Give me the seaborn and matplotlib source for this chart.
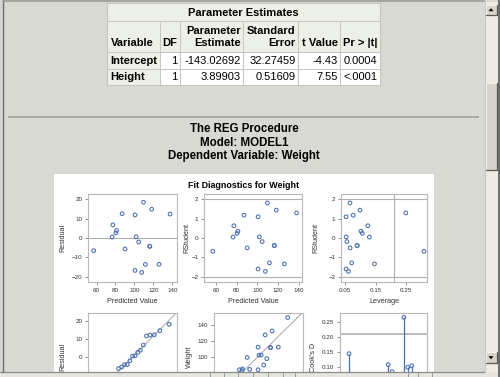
import numpy as np
import pandas as pd
import matplotlib
matplotlib.use("Agg")
import matplotlib.pyplot as plt
import seaborn as sns
from matplotlib.patches import Rectangle, Polygon
from matplotlib.ticker import FormatStrFormatter

sns.set_theme(style="white")
plt.rcParams['font.family'] = ['Liberation Sans', 'DejaVu Sans']

# ---------------- data ----------------
table_title = "Parameter Estimates"
col_head1 = ["", "", "Parameter", "Standard", "", ""]
col_head2 = ["Variable", "DF", "Estimate", "Error", "t Value", "Pr > |t|"]
row_vars = ["Intercept", "Height"]
row_df = ["1", "1"]
row_est = ["-143.02692", "3.89903"]
row_se = ["32.27459", "0.51609"]
row_t = ["-4.43", "7.55"]
row_p = ["0.0004", "<.0001"]

titles = ["The REG Procedure", "Model: MODEL1", "Dependent Variable: Weight"]
panel_title = "Fit Diagnostics for Weight"

obs = list(range(1, 20))
predicted = [126.006, 77.268, 111.580, 101.832, 104.561, 80.387, 90.135, 100.662, 100.662, 87.016,
             56.993, 107.681, 76.488, 116.259, 137.703, 109.630, 118.208, 81.167, 116.259]
weight = [112.5, 84.0, 98.0, 102.5, 102.5, 83.0, 84.5, 112.5, 84.0, 99.5,
          50.5, 90.0, 77.0, 112.0, 150.0, 128.0, 133.0, 85.0, 112.0]
residual = [-13.506, 6.732, -13.580, 0.668, -2.061, 2.613, -5.635, 11.838, -16.662, 12.484,
            -6.493, -17.681, 0.512, -4.259, 12.297, 18.370, 14.792, 3.833, -4.259]
rstudent = [-1.332, 0.630, -1.278, 0.059, -0.184, 0.239, -0.508, 1.089, -1.592, 1.170,
            -0.685, -1.715, 0.047, -0.388, 1.289, 1.801, 1.430, 0.351, -0.388]
leverage = [0.1465, 0.1246, 0.0712, 0.0531, 0.0555, 0.1063, 0.0662, 0.0527, 0.0527, 0.0762,
            0.3101, 0.0608, 0.1297, 0.0893, 0.2500, 0.0655, 0.0986, 0.1021, 0.0893]
cooks_d = [0.1455, 0.0292, 0.0604, 0.0001, 0.0010, 0.0036, 0.0096, 0.0327, 0.0647, 0.0552,
           0.1090, 0.0855, 0.0002, 0.0077, 0.2666, 0.1003, 0.1053, 0.0074, 0.0077]
normal_quantile = [-1.846, -1.376, -1.097, -0.884, -0.705, -0.547, -0.401, -0.264, -0.131, 0.0,
                   0.131, 0.264, 0.401, 0.547, 0.705, 0.884, 1.097, 1.376, 1.846]
sorted_residual = [-17.681, -16.662, -13.580, -13.506, -6.493, -5.635, -4.259, -4.259, -2.061, 0.512,
                   0.668, 2.613, 3.833, 6.732, 11.838, 12.297, 12.484, 14.792, 18.370]
rmse = 11.226
leverage_cut = 0.2105
cooks_cut = 0.2105

# ---------------- styling ----------------
W, H = 500, 377
BG = '#d8d9d2'
HEAD = '#edf0e6'
GRIDC = '#c6c8c0'
BLUE = '#4a6eae'
REF = '#b0b0b0'
FRAME = '#b8b8b8'
TXT = '#333333'

fig = plt.figure(figsize=(5, 3.77), dpi=100, facecolor=BG)


def px_axes(x0, y0, x1, y1, z=1):
    return fig.add_axes([x0 / W, 1 - y1 / H, (x1 - x0) / W, (y1 - y0) / H], zorder=z)


bg = px_axes(0, 0, W, H, z=0)
bg.set_xlim(0, W)
bg.set_ylim(H, 0)
bg.axis('off')

# ---- table ----
cx = [107, 160, 180, 243, 298, 340, 380]
ry = [3, 21, 52, 68.5, 85]


def cell(x0, y0, x1, y1, fc):
    bg.add_patch(Rectangle((x0, y0), x1 - x0, y1 - y0, facecolor=fc, edgecolor=GRIDC, lw=0.75))


cell(cx[0], ry[0], cx[-1], ry[1], HEAD)
for i in range(6):
    cell(cx[i], ry[1], cx[i + 1], ry[2], HEAD)
for r in range(2):
    for i in range(6):
        cell(cx[i], ry[2 + r], cx[i + 1], ry[3 + r], HEAD if i == 0 else 'white')

tfs = 8
bg.text((cx[0] + cx[-1]) / 2, 12.5, table_title, ha='center', va='center', fontsize=tfs, weight='bold', color='black')
for i in range(6):
    if i == 0:
        xx, ha = cx[0] + 3.5, 'left'
    elif i == 1:
        xx, ha = (cx[1] + cx[2]) / 2, 'center'
    else:
        xx, ha = cx[i + 1] - 2.3, 'right'
    if col_head1[i]:
        bg.text(xx, 30.5, col_head1[i], ha=ha, va='center', fontsize=tfs, weight='bold', color='black')
    bg.text(xx, 43, col_head2[i], ha=ha, va='center', fontsize=tfs, weight='bold', color='black')

for r in range(2):
    yy = (ry[2 + r] + ry[3 + r]) / 2 + 0.5
    bg.text(cx[0] + 3.5, yy, row_vars[r], ha='left', va='center', fontsize=tfs, weight='bold', color='black')
    vals = [row_df[r], row_est[r], row_se[r], row_t[r], row_p[r]]
    for i, v in enumerate(vals):
        bg.text(cx[i + 2] - 2.3, yy, v, ha='right', va='center', fontsize=tfs, color='black')

# separator line
bg.plot([8, 479], [116.5, 116.5], color='#a9aaa3', lw=1.4, solid_capstyle='butt')

# titles
for t, yy in zip(titles, [129, 142.5, 155.5]):
    bg.text(244, yy, t, ha='center', va='center', fontsize=8.3, weight='bold', color='black')

# white panel
bg.add_patch(Rectangle((54, 174), 380, 210, facecolor='white', edgecolor='none'))
bg.text(244, 185, panel_title, ha='center', va='center', fontsize=6.4, weight='bold', color='black')


# ---------------- plots ----------------
def style(ax, ylab, ylab_x, xlab=None):
    ax.set_facecolor('white')
    for s in ax.spines.values():
        s.set_color(FRAME)
        s.set_linewidth(0.8)
    ax.tick_params(axis='both', which='major', bottom=True, left=True, top=False, right=False,
                   length=2.2, width=0.6, color='#808080', labelsize=4.5, labelcolor=TXT, pad=1.8,
                   direction='out')
    ax.grid(False)
    ax.set_ylabel(ylab, fontsize=5.2, color=TXT, va='center')
    ax.yaxis.set_label_coords(ylab_x, 0.5)
    if xlab:
        ax.set_xlabel(xlab, fontsize=5.2, color=TXT, va='center')
        ax.xaxis.set_label_coords(0.5, -0.225)
    else:
        ax.set_xlabel('')
        ax.tick_params(axis='x', labelbottom=False)


def dots(ax, x, y):
    sns.scatterplot(x=x, y=y, ax=ax, s=7, marker='o', facecolors='none', edgecolor=BLUE,
                    linewidth=0.75, legend=False, zorder=3)


# Residual vs Predicted
a1 = px_axes(88, 194, 177, 282, z=2)
a1.axhline(0, color=REF, lw=0.8, zorder=1)
dots(a1, predicted, residual)
a1.set_xlim(51, 145)
a1.set_ylim(-22.6, 22.6)
a1.set_xticks([60, 80, 100, 120, 140])
a1.set_yticks([-20, -10, 0, 10, 20])
style(a1, 'Residual', -0.28, 'Predicted Value')

# RStudent vs Predicted
a2 = px_axes(204, 194, 302, 282, z=2)
for v in (-2, 2):
    a2.axhline(v, color=REF, lw=0.8, zorder=1)
dots(a2, predicted, rstudent)
a2.set_xlim(48.5, 143)
a2.set_ylim(-2.26, 2.26)
a2.set_xticks([60, 80, 100, 120, 140])
a2.set_yticks([-2, -1, 0, 1, 2])
style(a2, 'RStudent', -0.17, 'Predicted Value')

# RStudent vs Leverage
a3 = px_axes(341, 194, 427, 282, z=2)
for v in (-2, 2):
    a3.axhline(v, color=REF, lw=0.8, zorder=1)
a3.axvline(leverage_cut, color=REF, lw=0.8, zorder=1)
dots(a3, leverage, rstudent)
a3.set_xlim(0.036, 0.32)
a3.set_ylim(-2.26, 2.26)
a3.set_xticks([0.05, 0.15, 0.25])
a3.xaxis.set_major_formatter(FormatStrFormatter('%.2f'))
a3.set_yticks([-2, -1, 0, 1, 2])
style(a3, 'RStudent', -0.29, 'Leverage')

# Q-Q residual (lower part hidden below the window edge)
a4 = px_axes(88, 313, 177, 401, z=2)
a4.axline((0, 0), slope=rmse, color=REF, lw=0.8, zorder=1)
dots(a4, normal_quantile, sorted_residual)
a4.set_xlim(-2.24, 2.24)
a4.set_ylim(-24.7, 24.7)
a4.set_yticks([0, 10, 20])
style(a4, 'Residual', -0.28)

# Weight vs Predicted
a5 = px_axes(214, 313, 302.7, 401, z=2)
a5.axline((100, 100), slope=1, color=REF, lw=0.8, zorder=1)
dots(a5, predicted, weight)
a5.set_xlim(45.5, 156.5)
a5.set_ylim(44.5, 155.7)
a5.set_yticks([100, 120, 140])
a5.set_xticks([60, 80, 100, 120, 140])
style(a5, 'Weight', -0.28)

# Cook's D
a6 = px_axes(340, 313, 427, 401, z=2)
a6.axhline(cooks_cut, color=REF, lw=1.2, zorder=1)
a6.vlines(obs, 0, cooks_d, color=BLUE, lw=0.9, zorder=2)
dots(a6, obs, cooks_d)
a6.set_xlim(-1.3, 20.9)
a6.set_ylim(-0.012, 0.281)
a6.set_yticks([0.10, 0.15, 0.20, 0.25])
a6.yaxis.set_major_formatter(FormatStrFormatter('%.2f'))
style(a6, "Cook's D", -0.30)

# ---------------- window chrome overlay ----------------
ov = px_axes(0, 0, W, H, z=10)
ov.set_xlim(0, W)
ov.set_ylim(H, 0)
ov.axis('off')

# status bar at bottom
ov.add_patch(Rectangle((0, 371.5), W, 6, facecolor='#e6e5e0', edgecolor='none'))
ov.plot([0, 484], [371.5, 371.5], color='#8c8c88', lw=0.9)
for xs in [210, 224, 238, 253, 268, 283, 295, 408, 418, 432]:
    ov.plot([xs, xs], [373, 377], color='#9a9a96', lw=0.7)

# borders
ov.plot([3, 3], [0, 372], color='#6e6e6a', lw=1.0)
ov.plot([3, 484], [1.0, 1.0], color='#a4a49e', lw=1.4)
ov.plot([498.5, 498.5], [0, H], color='#5c5c58', lw=1.2)

# vertical scrollbar
ov.add_patch(Rectangle((484.5, 2), 13, 370, facecolor='#ecebe6', edgecolor='none'))
ov.plot([484.5, 484.5], [2, 372], color='#c4c3bd', lw=0.7)


def button(y0, y1):
    ov.add_patch(Rectangle((485.5, y0), 11, y1 - y0, facecolor='#d6d3cc', edgecolor='none'))
    ov.plot([485.5, 485.5, 496.5], [y1, y0, y0], color='#f6f5f2', lw=0.7)
    ov.plot([485.5, 496.5, 496.5], [y1, y1, y0], color='#5a5a56', lw=0.9)


button(4.5, 15)
ov.add_patch(Polygon([[488.5, 11.2], [493.5, 11.2], [491, 8.2]], closed=True, facecolor='black', edgecolor='none'))
button(83, 170)
button(352, 363)
ov.add_patch(Polygon([[488.5, 356.2], [493.5, 356.2], [491, 359.2]], closed=True, facecolor='black', edgecolor='none'))

fig.savefig('out.png', dpi=100, facecolor=BG)
